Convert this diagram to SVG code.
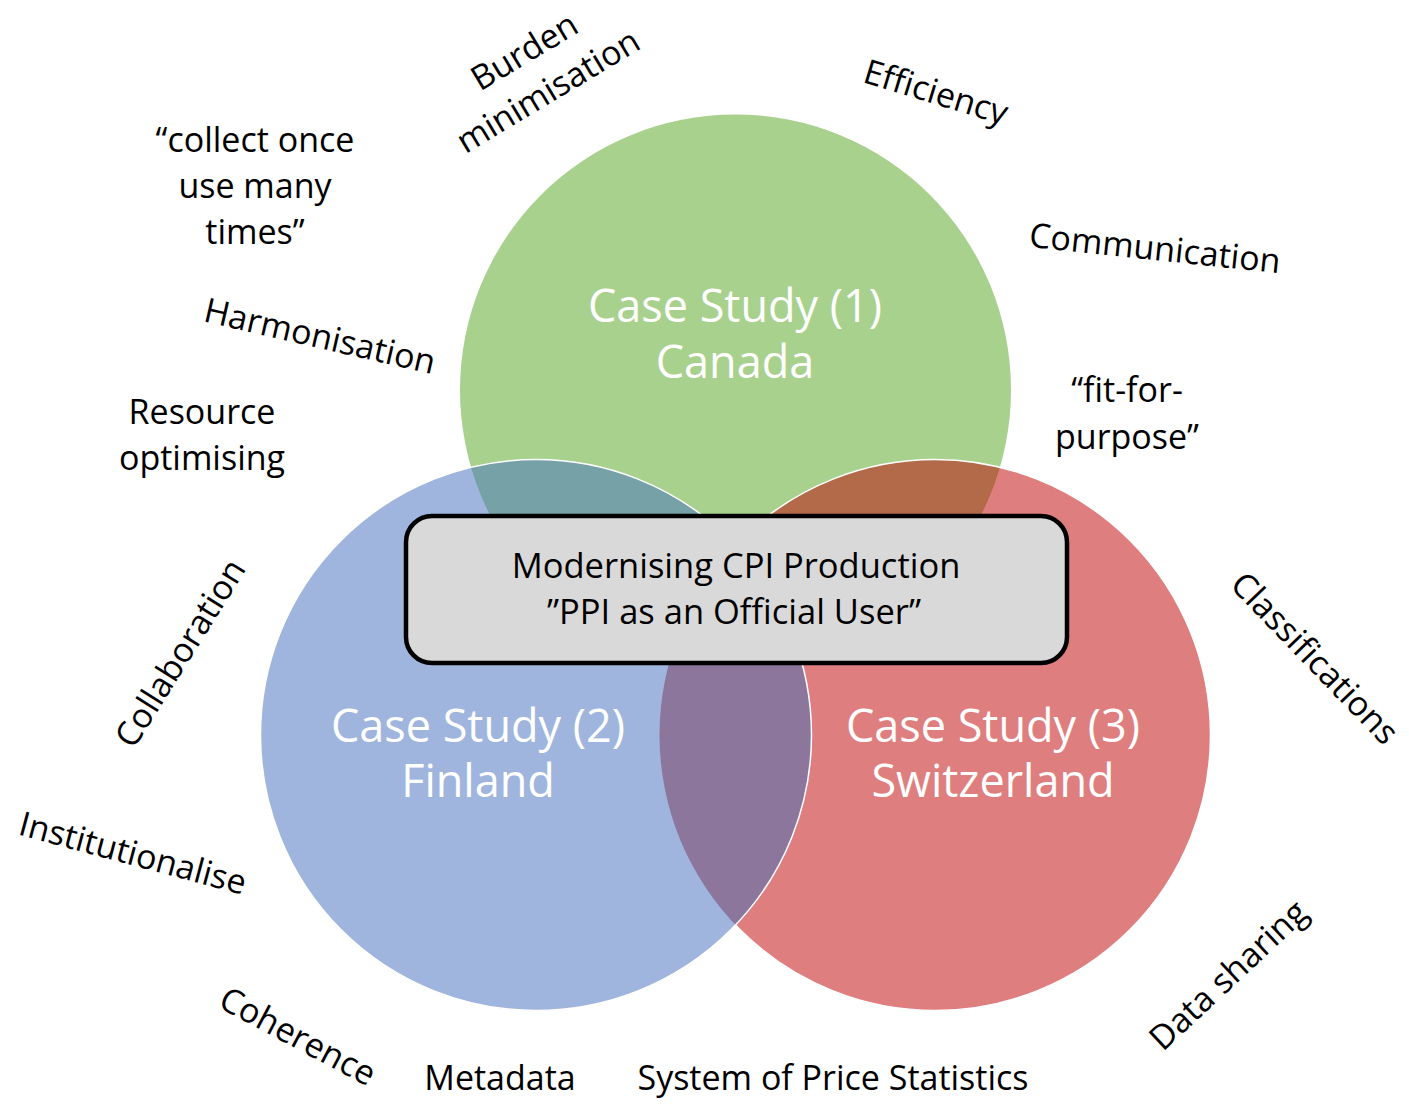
<svg xmlns="http://www.w3.org/2000/svg" width="1409" height="1104" viewBox="0 0 1409 1104">
<style>
.lbl{font-family:"Open Sans","Noto Sans",sans-serif;font-size:34px;fill:#000;text-anchor:middle}
.cs{font-family:"Open Sans","Noto Sans",sans-serif;font-size:45px;fill:#fff;text-anchor:middle}
.bx{font-family:"Open Sans","Noto Sans",sans-serif;font-size:34.5px;fill:#000;text-anchor:middle}
</style>
<defs>
<clipPath id="cG"><circle cx="735.5" cy="390" r="275.5"/></clipPath>
<clipPath id="cR"><circle cx="935" cy="735" r="275.5"/></clipPath>
<clipPath id="cB"><circle cx="536" cy="735" r="275.5"/></clipPath>
</defs>
<rect width="1409" height="1104" fill="#fff"/>
<g id="canada">
<circle cx="735.5" cy="390" r="275.5" fill="#a9d18e"/>
</g>
<g id="switzerland">
<circle cx="935" cy="735" r="275.5" fill="#df7e7e"/>
<circle cx="935" cy="735" r="275.5" fill="#b26a48" clip-path="url(#cG)"/>
<circle cx="935" cy="735" r="275.5" fill="none" stroke="#fff" stroke-width="1.5"/>
</g>
<g id="finland">
<circle cx="536" cy="735" r="275.5" fill="#9fb5de"/>
<circle cx="536" cy="735" r="275.5" fill="#75a1a7" clip-path="url(#cG)"/>
<g clip-path="url(#cR)"><circle cx="536" cy="735" r="275.5" fill="#8d769c"/></g>
<circle cx="536" cy="735" r="275.5" fill="none" stroke="#fff" stroke-width="1.5"/>
</g>
<g id="labels-circles">
<text class="cs" x="735" y="322">Case Study (1)</text>
<text class="cs" x="735" y="378">Canada</text>
<text class="cs" x="478" y="742">Case Study (2)</text>
<text class="cs" x="478" y="797">Finland</text>
<text class="cs" x="993" y="742">Case Study (3)</text>
<text class="cs" x="993" y="797">Switzerland</text>
</g>
<g id="center-box">
<rect x="406" y="516" width="661" height="147" rx="26" fill="#d9d9d9" stroke="#000" stroke-width="4.5"/>
<text class="bx" x="736" y="578">Modernising CPI Production</text>
<text class="bx" x="734" y="624">”PPI as an Official User”</text>
</g>
<g id="connectors"></g>
<g id="outer-labels">
<g transform="translate(536,71) rotate(-31)"><text class="lbl" x="0" y="-11">Burden</text><text class="lbl" x="0" y="35">minimisation</text></g>
<text class="lbl" transform="translate(936,92) rotate(17)" x="0" y="12">Efficiency</text>
<text class="lbl" transform="translate(1155,248) rotate(6)" x="0" y="12">Communication</text>
<text class="lbl" x="255" y="152">“collect once</text>
<text class="lbl" x="255" y="198">use many</text>
<text class="lbl" x="255" y="244">times”</text>
<text class="lbl" transform="translate(320,336) rotate(13)" x="0" y="12">Harmonisation</text>
<text class="lbl" x="202" y="424">Resource</text>
<text class="lbl" x="202" y="470">optimising</text>
<text class="lbl" x="1127" y="402">“fit-for-</text>
<text class="lbl" x="1127" y="449">purpose”</text>
<text class="lbl" transform="translate(180,653) rotate(-58)" x="0" y="12">Collaboration</text>
<text class="lbl" transform="translate(1315,658) rotate(46)" x="0" y="12">Classifications</text>
<text class="lbl" transform="translate(133,853) rotate(15)" x="0" y="12">Institutionalise</text>
<text class="lbl" transform="translate(298,1036) rotate(28)" x="0" y="12">Coherence</text>
<text class="lbl" x="500" y="1090">Metadata</text>
<text class="lbl" x="833" y="1090">System of Price Statistics</text>
<text class="lbl" transform="translate(1228,975) rotate(-43)" x="0" y="12">Data sharing</text>
</g>
</svg>
